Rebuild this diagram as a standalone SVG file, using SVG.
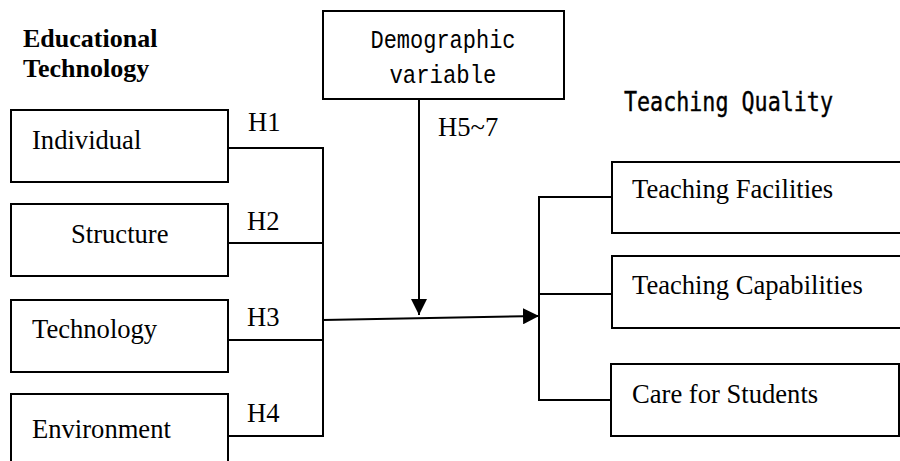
<svg xmlns="http://www.w3.org/2000/svg" width="900" height="461" viewBox="0 0 900 461">
<style>
.box{fill:#fff;stroke:#000;stroke-width:2}
.ln{fill:none;stroke:#000;stroke-width:2}
.t{font-family:"Liberation Serif","Times New Roman",serif;font-size:26.6px;fill:#000}
.b{font-family:"Liberation Serif","Times New Roman",serif;font-size:26px;font-weight:bold;fill:#000}
.m{font-family:"Liberation Mono","Courier New",monospace;font-size:25px;fill:#000}
.q{font-family:"DejaVu Sans Mono","Liberation Mono",monospace;font-size:27px;fill:#000;stroke:#000;stroke-width:0.4}
</style>
<defs>
<marker id="ah" viewBox="0 0 16 16" refX="16" refY="8" markerWidth="16" markerHeight="16" markerUnits="userSpaceOnUse" orient="auto">
<path d="M0,0 L16,8 L0,16 Z" fill="#000"/>
</marker>
</defs>
<rect width="900" height="461" fill="#fff"/>
<g id="title-left">
<text class="b" x="23" y="47">Educational</text>
<text class="b" x="23" y="77">Technology</text>
</g>
<g id="title-right">
<text class="q" x="624" y="111" textLength="209" lengthAdjust="spacingAndGlyphs">Teaching Quality</text>
</g>
<g id="connectors">
<polyline class="ln" points="228,148 323,148 323,436 228,436"/>
<line class="ln" x1="228" y1="243" x2="323" y2="243"/>
<line class="ln" x1="228" y1="340" x2="323" y2="340"/>
<line class="ln" x1="323" y1="320" x2="539" y2="316" marker-end="url(#ah)"/>
<line class="ln" x1="419" y1="99" x2="419" y2="315" marker-end="url(#ah)"/>
<polyline class="ln" points="611,197 539,197 539,400 611,400"/>
<line class="ln" x1="539" y1="294" x2="611" y2="294"/>
<text class="t" x="248" y="131">H1</text>
<text class="t" x="247" y="230">H2</text>
<text class="t" x="247" y="326">H3</text>
<text class="t" x="247" y="422">H4</text>
<text class="t" x="438" y="136">H5~7</text>
</g>
<g id="individual">
<rect class="box" x="11" y="110" width="217" height="72"/>
<text class="t" x="32" y="149">Individual</text>
</g>
<g id="structure">
<rect class="box" x="11" y="204" width="217" height="72"/>
<text class="t" x="71" y="243">Structure</text>
</g>
<g id="technology">
<rect class="box" x="11" y="300" width="217" height="72"/>
<text class="t" x="32" y="338">Technology</text>
</g>
<g id="environment">
<rect class="box" x="11" y="394" width="217" height="80"/>
<text class="t" x="32" y="438">Environment</text>
</g>
<g id="demographic">
<rect class="box" x="323" y="11" width="241" height="88"/>
<text class="m" x="443" y="48" text-anchor="middle" textLength="145" lengthAdjust="spacingAndGlyphs">Demographic</text>
<text class="m" x="443" y="83" text-anchor="middle" textLength="107" lengthAdjust="spacingAndGlyphs">variable</text>
</g>
<g id="facilities">
<rect class="box" x="612" y="162" width="290" height="71"/>
<text class="t" x="632" y="198">Teaching Facilities</text>
</g>
<g id="capabilities">
<rect class="box" x="612" y="256" width="290" height="72"/>
<text class="t" x="632" y="294">Teaching Capabilities</text>
</g>
<g id="care">
<rect class="box" x="611" y="364" width="288" height="72"/>
<text class="t" x="632" y="403">Care for Students</text>
</g>
</svg>
